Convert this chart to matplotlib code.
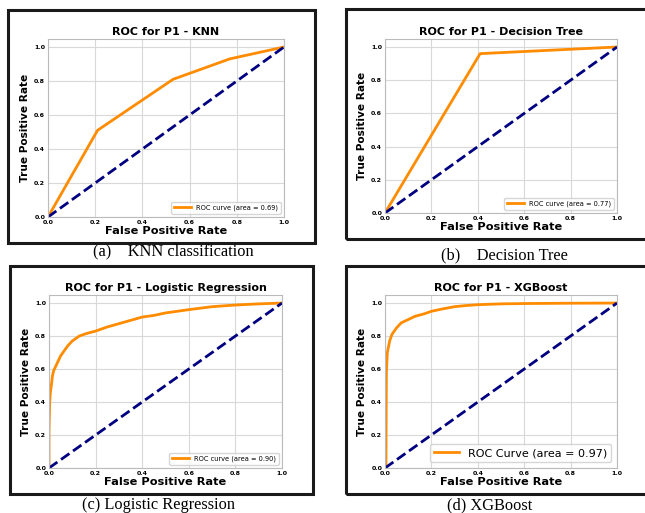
import matplotlib
matplotlib.use("Agg")
import matplotlib.pyplot as plt
from matplotlib.patches import Rectangle

# ROC data
knn_fpr = [0.0, 0.21, 0.53, 0.77, 1.0]
knn_tpr = [0.0, 0.51, 0.81, 0.93, 1.0]

dt_fpr = [0.0, 0.41, 1.0]
dt_tpr = [0.0, 0.96, 1.0]

lr_fpr = [0.0, 0.0, 0.003, 0.006, 0.01, 0.015, 0.02, 0.03, 0.04, 0.05, 0.06, 0.08,
          0.10, 0.13, 0.16, 0.20, 0.25, 0.30, 0.35, 0.40, 0.45, 0.50, 0.60, 0.70,
          0.80, 0.90, 1.0]
lr_tpr = [0.0, 0.22, 0.40, 0.46, 0.50, 0.56, 0.59, 0.62, 0.65, 0.68, 0.70, 0.74,
          0.77, 0.80, 0.815, 0.83, 0.855, 0.875, 0.895, 0.915, 0.925, 0.94, 0.96, 0.978,
          0.988, 0.995, 1.0]

xgb_fpr = [0.0, 0.004, 0.006, 0.01, 0.02, 0.03, 0.05, 0.07, 0.10, 0.13, 0.17, 0.20,
           0.25, 0.30, 0.35, 0.40, 0.50, 0.60, 0.80, 1.0]
xgb_tpr = [0.0, 0.0, 0.58, 0.70, 0.77, 0.81, 0.85, 0.88, 0.90, 0.92, 0.935, 0.95,
           0.965, 0.978, 0.985, 0.99, 0.995, 0.997, 0.999, 1.0]

titles = ["ROC for P1 - KNN", "ROC for P1 - Decision Tree",
          "ROC for P1 - Logistic Regression", "ROC for P1 - XGBoost"]
legend_labels = ["ROC curve (area = 0.69)", "ROC curve (area = 0.77)",
                 "ROC curve (area = 0.90)", "ROC Curve (area = 0.97)"]
captions = ["(a)    KNN classification", "(b)    Decision Tree",
            "(c) Logistic Regression", "(d) XGBoost"]

W, H = 645, 513
fig = plt.figure(figsize=(W / 100, H / 100), dpi=100)


def box(l, t, r, b):
    # pixel box -> figure fraction [left, bottom, width, height]
    return [l / W, 1 - b / H, (r - l) / W, (b - t) / H]


# axes pixel boxes (left, top, right, bottom)
axes_px = [(48, 38.5, 284, 217), (385, 38.7, 617, 213),
           (49, 294.8, 282, 468), (385, 294.8, 617, 468)]
frames_px = [(8, 10, 315, 243), (346, 9, 700, 239),
             (10, 266, 313, 494), (346, 266, 700, 494)]
caption_xy = [(173, 251), (504, 255), (159, 505), (490, 505)]
legend_size = [4.8, 4.8, 4.8, 8]
legend_handle = [2.5, 2.5, 2.5, 2.2]

curves = [(knn_fpr, knn_tpr), (dt_fpr, dt_tpr), (lr_fpr, lr_tpr), (xgb_fpr, xgb_tpr)]

for i in range(4):
    fl, ft, fr, fb = frames_px[i]
    fig.patches.append(Rectangle((fl / W, 1 - fb / H), (fr - fl) / W, (fb - ft) / H,
                                 transform=fig.transFigure, fill=False,
                                 edgecolor="#1a1a1a", linewidth=2.2))

    ax = fig.add_axes(box(*axes_px[i]))
    fpr, tpr = curves[i]
    ax.plot(fpr, tpr, color="darkorange", lw=2, label=legend_labels[i])
    ax.plot([0, 1], [0, 1], color="navy", lw=2, linestyle="--")
    ax.set_xlim([0.0, 1.0])
    ax.set_ylim([0.0, 1.05])
    ax.set_xticks([0.0, 0.2, 0.4, 0.6, 0.8, 1.0])
    ax.set_yticks([0.0, 0.2, 0.4, 0.6, 0.8, 1.0])
    ax.tick_params(labelsize=4.5, length=0, pad=2)
    for lab in ax.get_xticklabels() + ax.get_yticklabels():
        lab.set_fontweight("bold")
    ax.grid(True, color="#d9d9d9", lw=0.8)
    for s in ax.spines.values():
        s.set_color("#bbbbbb")
        s.set_linewidth(0.8)
    ax.set_title(titles[i], fontsize=8, fontweight="bold", pad=2.5)
    ax.set_xlabel("False Positive Rate", fontsize=8.2, fontweight="bold", labelpad=1)
    ax.set_ylabel("True Positive Rate", fontsize=7.6, fontweight="bold", labelpad=3)
    ax.legend(loc="lower right", fontsize=legend_size[i], handlelength=legend_handle[i])

    cx, cy = caption_xy[i]
    fig.text(cx / W, 1 - cy / H, captions[i], ha="center", va="center",
             fontsize=11.8, family="Liberation Serif")

fig.savefig("out.png", dpi=100)
